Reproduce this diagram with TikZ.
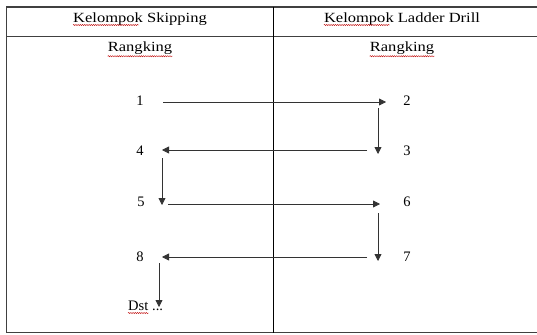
\documentclass[tikz,border=0pt]{standalone}
\usepackage{fontspec}
\setmainfont{Liberation Serif}
\newfontfamily\hdfont[FakeStretch=1.18]{Liberation Serif}
\usetikzlibrary{arrows.meta,decorations.pathmorphing}
\begin{document}
\begin{tikzpicture}[x=1pt,y=-1pt,
  grid/.style={line width=1.3pt,draw=black!75},
  mid/.style={line width=1pt,draw=black},
  head/.style={font=\hdfont\fontsize{14}{16}\selectfont,inner sep=0pt,anchor=base},
  num/.style={font=\fontsize{14.5}{16}\selectfont,inner sep=0pt,anchor=base},
  arr/.style={line width=0.8pt,draw=black!80,-{Triangle[length=7pt,width=7pt]}},
  wavy/.style={draw=red!75!black,line width=0.4pt,decorate,decoration={snake,amplitude=0.6pt,segment length=2.2pt}}]
\useasboundingbox (0,0) rectangle (537,334);
\fill[white] (0,0) rectangle (537,334);
% table
\draw[grid] (6.5,7) -- (537,7);
\draw[grid] (6.5,36.5) -- (537,36.5);
\draw[grid] (6.5,332.5) -- (537,332.5);
\draw[grid] (6.5,6.3) -- (6.5,333.2);
\draw[mid] (273,7) -- (273,332.5);
% headers
\node[head] (h1) at (140,23) {Kelompok Skipping};
\node[head] (h2) at (402,23) {Kelompok Ladder Drill};
\node[head] (r1) at (140,52) {Rangking};
\node[head] (r2) at (402,52) {Rangking};
\draw[wavy] ([yshift=-2pt]h1.base west) -- ++(66,0);
\draw[wavy] ([yshift=-2pt]h2.base west) -- ++(66,0);
\draw[wavy] ([yshift=-4.2pt]r1.base west) -- ([yshift=-4.2pt]r1.base east);
\draw[wavy] ([yshift=-4.2pt]r2.base west) -- ([yshift=-4.2pt]r2.base east);
% numbers
\node[num] (n1) at (140,106) {1};
\node[num] (n2) at (407,106) {2};
\node[num] (n3) at (407,155) {3};
\node[num] (n4) at (140,155) {4};
\node[num] (n5) at (141,206.5) {5};
\node[num] (n6) at (407,206.5) {6};
\node[num] (n7) at (407,261) {7};
\node[num] (n8) at (140,261) {8};
\node[num,anchor=base west] (dst) at (128,310) {Dst};
\node[num,anchor=base west,inner sep=0pt] (dots) at (152,310) {...};
\draw[wavy] ([yshift=-3pt]dst.base west) -- ([yshift=-3pt]dst.base east);
% arrow coordinates
\coordinate (a1) at (163,102); \coordinate (b1) at (386,102);
\coordinate (a2) at (378,108); \coordinate (b2) at (378,154);
\coordinate (a3) at (367,150); \coordinate (b3) at (162,150);
\coordinate (a4) at (162,158); \coordinate (b4) at (162,205);
\coordinate (a5) at (168,204); \coordinate (b5) at (380,204);
\coordinate (a6) at (378,213); \coordinate (b6) at (378,261);
\coordinate (a7) at (367,257); \coordinate (b7) at (162,257);
\coordinate (a8) at (159,263); \coordinate (b8) at (159,307);
\draw[arr] (a1) -- (b1);
\draw[arr] (a2) -- (b2);
\draw[arr] (a3) -- (b3);
\draw[arr] (a4) -- (b4);
\draw[arr] (a5) -- (b5);
\draw[arr] (a6) -- (b6);
\draw[arr] (a7) -- (b7);
\draw[arr] (a8) -- (b8);
\end{tikzpicture}
\end{document}
